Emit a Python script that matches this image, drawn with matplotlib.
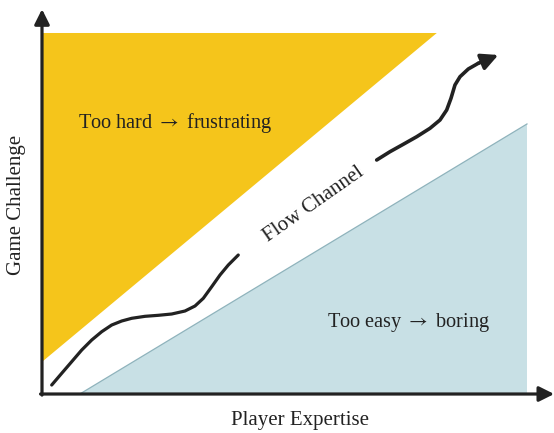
import matplotlib
matplotlib.use("Agg")
import matplotlib.pyplot as plt
from matplotlib.patches import Polygon

plt.rcParams["mathtext.fontset"] = "stix"

# ---- data (expertise / challenge, 0-100 scale) ----
hard_zone_x = [0, 81.4, 0]
hard_zone_y = [100, 100, 8.9]
easy_zone_x = [7.8, 100, 100]
easy_zone_y = [0, 74.8, 0]

flow_path1_x = [2.00, 4.06, 6.12, 8.19, 10.25, 12.31, 14.37, 16.43, 18.49, 21.24,
                23.98, 26.74, 29.48, 31.55, 33.26, 34.99, 36.70, 38.41, 40.47]
flow_path1_y = [2.49, 5.73, 8.95, 12.19, 14.96, 17.26, 19.11, 20.22, 20.97, 21.52,
                21.80, 22.16, 22.99, 24.38, 26.51, 29.72, 32.96, 35.73, 38.50]
flow_path2_x = [69.01, 71.75, 74.49, 77.26, 80.00, 82.06, 83.44, 84.33, 85.15,
                86.19, 87.90, 89.96, 94.08]
flow_path2_y = [64.82, 67.12, 69.17, 71.27, 73.60, 75.90, 78.67, 81.91, 85.60,
                87.89, 90.03, 91.61, 93.91]

labels = ["Too hard $\\rightarrow$ frustrating", "Too easy $\\rightarrow$ boring",
          "Flow Channel"]
x_label = "Player Expertise"
y_label = "Game Challenge"

YELLOW = "#F5C51B"
BLUE = "#C8E0E5"
DARK = "#222222"
FONT = ["Liberation Serif", "DejaVu Serif"]
FS = 15
FS_ZONE = 14.6

fig = plt.figure(figsize=(5.54, 4.33), dpi=100)
ax = fig.add_axes([0, 0, 1, 1])
ax.set_xlim(-8.66, 105.57)
ax.set_ylim(-10.8, 109.14)
ax.axis("off")

ax.add_patch(Polygon(list(zip(hard_zone_x, hard_zone_y)), closed=True,
                     facecolor=YELLOW, edgecolor="none", zorder=1))
ax.add_patch(Polygon(list(zip(easy_zone_x, easy_zone_y)), closed=True,
                     facecolor=BLUE, edgecolor="none", zorder=1))
ax.plot(easy_zone_x[:2], easy_zone_y[:2], color="#8fb3bc", lw=0.9, zorder=2)

# axes arrows
ax.annotate("", xy=(0, 106.6), xytext=(0, -0.3),
            arrowprops=dict(arrowstyle="-|>,head_length=0.9,head_width=0.45",
                            color=DARK, lw=2.3, shrinkA=0, shrinkB=0), zorder=5)
ax.annotate("", xy=(105.6, 0), xytext=(-0.3, 0),
            arrowprops=dict(arrowstyle="-|>,head_length=0.9,head_width=0.45",
                            color=DARK, lw=2.3, shrinkA=0, shrinkB=0), zorder=5)

# flow path
ax.plot(flow_path1_x, flow_path1_y, color=DARK, lw=2.3,
        solid_capstyle="round", solid_joinstyle="round", zorder=4)
ax.plot(flow_path2_x[:-1], flow_path2_y[:-1], color=DARK, lw=2.6,
        solid_capstyle="round", solid_joinstyle="round", zorder=4)
ax.annotate("", xy=(flow_path2_x[-1], flow_path2_y[-1]),
            xytext=(flow_path2_x[-2], flow_path2_y[-2]),
            arrowprops=dict(arrowstyle="-|>,head_length=1.0,head_width=0.5",
                            color=DARK, lw=2.6, shrinkA=0, shrinkB=0), zorder=4)

# labels
ax.text(7.4, 75.1, labels[0], fontsize=FS_ZONE, family=FONT, color=DARK,
        ha="left", va="center", zorder=6)
ax.text(58.8, 19.7, labels[1], fontsize=FS_ZONE, family=FONT, color=DARK,
        ha="left", va="center", zorder=6)
ax.text(56.0, 52.6, labels[2], fontsize=FS, family=FONT, color=DARK,
        ha="center", va="center", rotation=35, rotation_mode="anchor", zorder=6)
ax.text(53.2, -7.2, x_label, fontsize=FS, family=FONT, color=DARK,
        ha="center", va="center")
ax.text(-5.2, 52.4, y_label, fontsize=FS, family=FONT, color=DARK,
        ha="center", va="center", rotation=90)

fig.savefig("out.png", dpi=100, facecolor="white")
